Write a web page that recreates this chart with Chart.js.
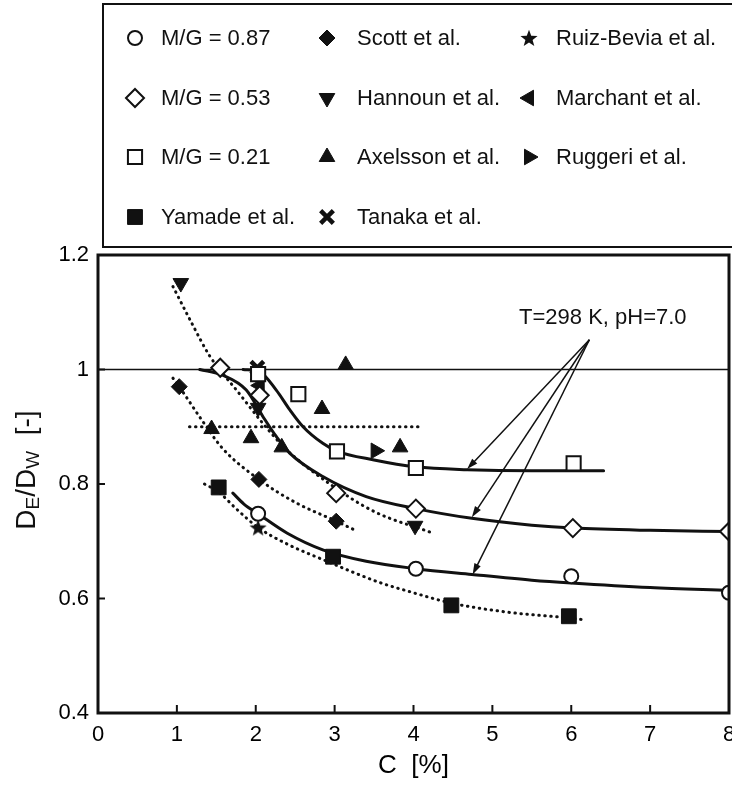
<!DOCTYPE html>
<html>
<head>
<meta charset="utf-8">
<title>DE/DW against C</title>
<script src="https://cdn.jsdelivr.net/npm/chart.js@4.4.1/dist/chart.umd.min.js"></script>
<style>
  html, body { margin: 0; padding: 0; background: #fff; }
  #wrap { width: 732px; height: 785px; }
</style>
</head>
<body>
<div id="wrap"><canvas id="diffusivity-chart" width="732" height="785"></canvas></div>
<script>
'use strict';

// axis ticks
var xTicks = [0, 1, 2, 3, 4, 5, 6, 7, 8];
var yTicks = [0.4, 0.6, 0.8, 1.0, 1.2];

// measured points, [C %, DE/DW]
var mg087 = [[2.03, 0.748], [4.03, 0.652], [6.0, 0.639], [8.0, 0.61]];
var mg053 = [[1.55, 1.003], [2.05, 0.955], [3.02, 0.784], [4.03, 0.757], [6.02, 0.723], [8.0, 0.717]];
var mg021 = [[2.03, 0.992], [2.54, 0.957], [3.03, 0.857], [4.03, 0.828], [6.03, 0.836]];
var scott = [[1.03, 0.97], [2.04, 0.808], [3.02, 0.735]];
var hannoun = [[1.05, 1.151], [2.03, 0.933], [4.02, 0.727]];
var axelsson = [[1.44, 0.896], [1.94, 0.88], [2.03, 0.99], [2.33, 0.864], [2.84, 0.931], [3.14, 1.008], [3.83, 0.864]];
var yamade = [[1.53, 0.794], [2.98, 0.673], [4.48, 0.588], [5.97, 0.569]];
var tanaka = [[2.02, 1.003]];
var ruizBevia = [[2.03, 0.724]];
var marchant = [[2.05, 0.972]];
var ruggeri = [[3.52, 0.858]];

// solid fitted curves for the three M/G ratios
var fit087 = [[1.71, 0.784], [1.85, 0.765], [2.03, 0.748], [2.4, 0.714], [2.85, 0.685], [3.4, 0.665], [4.03, 0.652], [4.74, 0.642], [5.5, 0.632], [6.0, 0.627], [7.0, 0.619], [8.0, 0.614]];
var fit053 = [[1.29, 1.0], [1.58, 0.99], [1.88, 0.964], [2.09, 0.918], [2.26, 0.883], [2.43, 0.854], [2.85, 0.813], [3.4, 0.778], [4.03, 0.757], [4.74, 0.74], [5.5, 0.728], [6.02, 0.723], [7.0, 0.719], [8.0, 0.717]];
var fit021 = [[1.84, 1.0], [2.05, 0.996], [2.26, 0.964], [2.43, 0.93], [2.6, 0.9], [2.85, 0.871], [3.02, 0.858], [3.5, 0.842], [4.03, 0.83], [4.68, 0.825], [5.5, 0.823], [6.41, 0.823]];

// dotted trend lines of the literature data
var trendHannoun = [[0.95, 1.145], [1.2, 1.078], [1.41, 1.025], [1.6, 0.99], [1.75, 0.965], [2.09, 0.906], [2.39, 0.86], [2.94, 0.8], [3.5, 0.752], [4.23, 0.715]];
var trendScott = [[0.95, 0.985], [1.03, 0.97], [1.3, 0.915], [1.58, 0.862], [2.04, 0.808], [2.5, 0.768], [3.02, 0.735], [3.28, 0.718]];
var trendYamade = [[1.35, 0.8], [1.53, 0.786], [1.75, 0.757], [2.03, 0.724], [2.4, 0.695], [2.85, 0.668], [3.57, 0.628], [3.95, 0.612], [4.48, 0.592], [5.2, 0.576], [5.97, 0.566], [6.15, 0.563]];
var trendLevel = [[1.16, 0.9], [4.12, 0.9]];
var unityLine = [[0, 1.0], [8, 1.0]];

// annotation: text and arrows, in data units
var noteText = 'T=298 K, pH=7.0';
var notePos = [6.4, 1.09];
var arrowFrom = [6.23, 1.052];
var arrowTips = [[4.68, 0.826], [4.74, 0.742], [4.75, 0.642]];

// legend order, column by column
var legendCols = [
	['M/G = 0.87', 'M/G = 0.53', 'M/G = 0.21', 'Yamade et al.'],
	['Scott et al.', 'Hannoun et al.', 'Axelsson et al.', 'Tanaka et al.'],
	['Ruiz-Bevia et al.', 'Marchant et al.', 'Ruggeri et al.']
];

var INK = '#111';
var FONT = "'Liberation Sans', Arial, Helvetica, sans-serif";

function pts(pairs) {
	return pairs.map(function(p) { return { x: p[0], y: p[1] }; });
}

function makeStar(size) {
	var c = document.createElement('canvas');
	c.width = size;
	c.height = size;
	var g = c.getContext('2d');
	var cx = size / 2, cy = size / 2 + 0.8, ro = size / 2, ri = ro * 0.42;
	g.fillStyle = INK;
	g.beginPath();
	for (var i = 0; i < 10; i++) {
		var r = i % 2 ? ri : ro;
		var ang = -Math.PI / 2 + i * Math.PI / 5;
		g.lineTo(cx + r * Math.cos(ang), cy + r * Math.sin(ang));
	}
	g.closePath();
	g.fill();
	return c;
}

function markers(label, pairs, style, radius, open, rotation, bw) {
	return {
		label: label,
		data: pts(pairs),
		showLine: false,
		order: 1,
		pointStyle: style,
		pointRadius: radius,
		pointRotation: rotation || 0,
		pointBackgroundColor: open ? '#fff' : INK,
		pointBorderColor: INK,
		pointBorderWidth: bw || (open ? 2 : 1)
	};
}

function curve(pairs, dotted, width) {
	return {
		label: '',
		data: pts(pairs),
		showLine: true,
		order: 2,
		pointRadius: 0,
		borderColor: INK,
		borderWidth: width,
		borderDash: dotted ? [0.5, 5.5] : [],
		borderCapStyle: 'round',
		cubicInterpolationMode: 'monotone',
		fill: false
	};
}

var starImg = makeStar(18);

var datasets = [
	markers('M/G = 0.87', mg087, 'circle', 7, true),
	markers('M/G = 0.53', mg053, 'rectRot', 9, true),
	markers('M/G = 0.21', mg021, 'rect', 10, true),
	markers('Scott et al.', scott, 'rectRot', 8, false),
	markers('Hannoun et al.', hannoun, 'triangle', 9, false, 180),
	markers('Axelsson et al.', axelsson, 'triangle', 9, false),
	markers('Yamade et al.', yamade, 'rect', 10.5, false),
	markers('Tanaka et al.', tanaka, 'crossRot', 9, false, 0, 4.5),
	markers('Ruiz-Bevia et al.', ruizBevia, starImg, 9, false),
	markers('Marchant et al.', marchant, 'triangle', 9, false, -90),
	markers('Ruggeri et al.', ruggeri, 'triangle', 9, false, 90),
	curve(fit087, false, 3),
	curve(fit053, false, 3),
	curve(fit021, false, 3),
	curve(trendHannoun, true, 3),
	curve(trendScott, true, 3),
	curve(trendYamade, true, 3),
	curve(trendLevel, true, 3),
	curve(unityLine, false, 1.5)
];

function drawMarker(ctx, ds, x, y) {
	ctx.save();
	ctx.fillStyle = ds.pointBackgroundColor;
	ctx.strokeStyle = ds.pointBorderColor;
	ctx.lineWidth = ds.pointBorderWidth;
	if (Chart.helpers && Chart.helpers.drawPoint) {
		Chart.helpers.drawPoint(ctx, {
			pointStyle: ds.pointStyle,
			rotation: ds.pointRotation,
			radius: ds.pointRadius,
			borderWidth: ds.pointBorderWidth
		}, x, y);
	}
	ctx.restore();
}

function arrow(ctx, x0, y0, x1, y1) {
	var ang = Math.atan2(y1 - y0, x1 - x0);
	var len = 11, half = 3.5;
	ctx.beginPath();
	ctx.moveTo(x0, y0);
	ctx.lineTo(x1 - Math.cos(ang) * len * 0.8, y1 - Math.sin(ang) * len * 0.8);
	ctx.stroke();
	ctx.beginPath();
	ctx.moveTo(x1, y1);
	ctx.lineTo(x1 - Math.cos(ang) * len - Math.sin(ang) * half, y1 - Math.sin(ang) * len + Math.cos(ang) * half);
	ctx.lineTo(x1 - Math.cos(ang) * len + Math.sin(ang) * half, y1 - Math.sin(ang) * len - Math.cos(ang) * half);
	ctx.closePath();
	ctx.fill();
}

var framePlugin = {
	id: 'frameAndNotes',
	afterDatasetsDraw: function(chart) {
		var ctx = chart.ctx, a = chart.chartArea;
		var xs = chart.scales.x, ys = chart.scales.y;
		ctx.save();
		ctx.strokeStyle = INK;
		ctx.fillStyle = INK;

		// short ticks pointing into the plot
		ctx.lineWidth = 2;
		ctx.beginPath();
		xTicks.forEach(function(v) {
			if (v <= xs.min || v >= xs.max) return;
			var px = xs.getPixelForValue(v);
			ctx.moveTo(px, a.bottom);
			ctx.lineTo(px, a.bottom - 8);
		});
		yTicks.forEach(function(v) {
			if (v <= ys.min || v >= ys.max) return;
			var py = ys.getPixelForValue(v);
			ctx.moveTo(a.left, py);
			ctx.lineTo(a.left + 7, py);
		});
		ctx.stroke();

		// frame
		ctx.lineWidth = 3;
		ctx.strokeRect(a.left, a.top, a.right - a.left, a.bottom - a.top);

		// note and arrows
		ctx.font = '22px ' + FONT;
		ctx.textAlign = 'center';
		ctx.textBaseline = 'middle';
		ctx.fillText(noteText, xs.getPixelForValue(notePos[0]), ys.getPixelForValue(notePos[1]));
		ctx.lineWidth = 1.5;
		var ox = xs.getPixelForValue(arrowFrom[0]), oy = ys.getPixelForValue(arrowFrom[1]);
		arrowTips.forEach(function(t) {
			arrow(ctx, ox, oy, xs.getPixelForValue(t[0]), ys.getPixelForValue(t[1]));
		});
		ctx.restore();
	},
	afterDraw: function(chart) {
		var ctx = chart.ctx;
		ctx.save();

		// legend box
		ctx.strokeStyle = INK;
		ctx.lineWidth = 2;
		ctx.strokeRect(103, 4, 650, 243);

		var markX = [135, 327, 529];
		var textX = [161, 357, 556];
		var rowY = [38, 98, 157, 217];
		ctx.font = '22px ' + FONT;
		ctx.textAlign = 'left';
		ctx.textBaseline = 'middle';
		legendCols.forEach(function(col, ci) {
			col.forEach(function(label, ri) {
				var ds = chart.data.datasets.filter(function(d) { return d.label === label; })[0];
				if (!ds) return;
				drawMarker(ctx, ds, markX[ci], rowY[ri]);
				ctx.fillStyle = INK;
				ctx.fillText(label, textX[ci], rowY[ri] + 1);
			});
		});

		// y axis title with subscripts
		var parts = [['D', 28, 0], ['E', 19, 7], ['/D', 28, 0], ['W', 19, 7], ['  [-]', 28, 0]];
		var total = 0;
		parts.forEach(function(p) {
			ctx.font = p[1] + 'px ' + FONT;
			total += ctx.measureText(p[0]).width;
		});
		ctx.translate(27, 470);
		ctx.rotate(-Math.PI / 2);
		ctx.fillStyle = INK;
		ctx.textBaseline = 'middle';
		var cx = -total / 2;
		parts.forEach(function(p) {
			ctx.font = p[1] + 'px ' + FONT;
			ctx.fillText(p[0], cx, p[2]);
			cx += ctx.measureText(p[0]).width;
		});
		ctx.restore();
	}
};

function tickText(v) {
	return String(parseFloat(Number(v).toFixed(1)));
}

// tick marks themselves are drawn by the plugin; these only space the labels
var hiddenGrid = { display: true, drawOnChartArea: false, drawTicks: true, tickLength: 9, color: 'rgba(0,0,0,0)' };

var chartConfig = {
	type: 'scatter',
	data: { datasets: datasets },
	options: {
		responsive: false,
		animation: false,
		devicePixelRatio: 1,
		events: [],
		layout: { autoPadding: false, padding: { top: 255, right: 3, left: 0, bottom: 0 } },
		plugins: {
			legend: { display: false },
			tooltip: { enabled: false }
		},
		scales: {
			x: {
				type: 'linear',
				min: 0,
				max: 8,
				afterBuildTicks: function(s) { s.ticks = xTicks.map(function(v) { return { value: v }; }); },
				ticks: { padding: 0, color: '#000', maxRotation: 0, font: { family: FONT, size: 22 }, callback: tickText },
				grid: hiddenGrid,
				border: { display: false },
				title: { display: true, text: 'C  [%]', color: '#000', font: { family: FONT, size: 26 }, padding: { top: 0, bottom: 4 } },
				afterFit: function(s) {
					s.height = 72;
					s.paddingLeft = 0;
					s.paddingRight = 0;
				}
			},
			y: {
				type: 'linear',
				min: 0.4,
				max: 1.2,
				afterBuildTicks: function(s) { s.ticks = yTicks.map(function(v) { return { value: v }; }); },
				ticks: { padding: 9, color: '#000', font: { family: FONT, size: 22 }, callback: tickText },
				grid: { display: false, drawTicks: false },
				border: { display: false },
				afterFit: function(s) { s.width = 98; s.paddingTop = 0; s.paddingBottom = 0; }
			}
		}
	},
	plugins: [framePlugin]
};

var diffusivity = document.getElementById('diffusivity-chart').getContext('2d');
var diffusivityChart = new Chart(diffusivity, chartConfig);
</script>
</body>
</html>
